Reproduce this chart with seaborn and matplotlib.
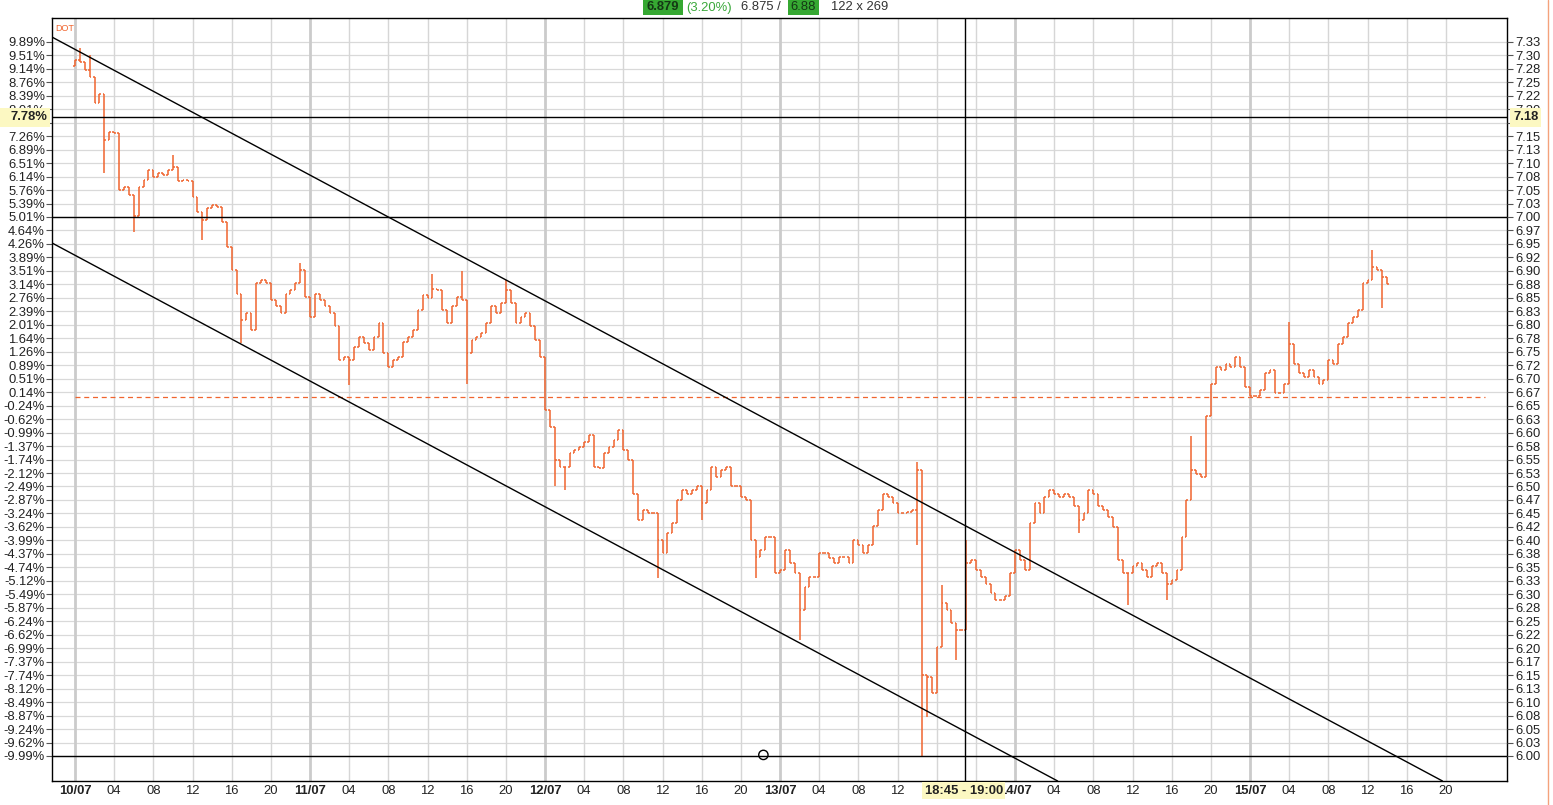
import matplotlib
matplotlib.use("Agg")
import matplotlib.pyplot as plt
from matplotlib.patches import Rectangle
import seaborn as sns
import numpy as np
import pandas as pd

# --- data: DOT 30-minute closes, starting 10/07 00:00 ---
first_open = 7.280
close = [
    7.291, 7.288, 7.273, 7.260, 7.211, 7.229, 7.143, 7.158, 7.155, 7.050,
    7.056, 7.041, 7.001, 7.056, 7.069, 7.087, 7.075, 7.081, 7.078, 7.087,
    7.093, 7.066, 7.069, 7.066, 7.038, 7.010, 6.994, 7.016, 7.022, 7.019,
    6.991, 6.945, 6.902, 6.858, 6.809, 6.821, 6.790, 6.877, 6.883, 6.877,
    6.846, 6.834, 6.821, 6.858, 6.865, 6.877, 6.902, 6.852, 6.815, 6.858,
    6.846, 6.834, 6.821, 6.797, 6.735, 6.741, 6.735, 6.759, 6.778, 6.766,
    6.753, 6.778, 6.803, 6.747, 6.722, 6.735, 6.741, 6.769, 6.778, 6.790,
    6.827, 6.855, 6.849, 6.867, 6.864, 6.827, 6.803, 6.834, 6.852, 6.846,
    6.747, 6.772, 6.778, 6.784, 6.803, 6.834, 6.821, 6.840, 6.864, 6.840,
    6.803, 6.815, 6.821, 6.797, 6.772, 6.741, 6.642, 6.611, 6.550, 6.537,
    6.537, 6.562, 6.568, 6.574, 6.583, 6.596, 6.537, 6.534, 6.562, 6.574,
    6.586, 6.605, 6.568, 6.550, 6.487, 6.438, 6.456, 6.450, 6.450, 6.401,
    6.376, 6.413, 6.432, 6.475, 6.494, 6.487, 6.494, 6.500, 6.469, 6.494,
    6.537, 6.518, 6.531, 6.537, 6.500, 6.500, 6.481, 6.475, 6.401, 6.370,
    6.382, 6.407, 6.407, 6.339, 6.345, 6.382, 6.358, 6.339, 6.271, 6.314,
    6.333, 6.333, 6.376, 6.376, 6.367, 6.358, 6.370, 6.370, 6.358, 6.401,
    6.392, 6.376, 6.392, 6.426, 6.456, 6.487, 6.481, 6.469, 6.450, 6.450,
    6.453, 6.456, 6.530, 6.150, 6.147, 6.116, 6.203, 6.283, 6.271, 6.246,
    6.234, 6.234, 6.358, 6.364, 6.345, 6.333, 6.320, 6.302, 6.289, 6.289,
    6.296, 6.339, 6.382, 6.364, 6.345, 6.432, 6.469, 6.450, 6.481, 6.494,
    6.487, 6.481, 6.487, 6.481, 6.463, 6.438, 6.450, 6.493, 6.487, 6.463,
    6.456, 6.444, 6.425, 6.364, 6.339, 6.339, 6.352, 6.358, 6.345, 6.333,
    6.352, 6.358, 6.339, 6.320, 6.327, 6.345, 6.407, 6.475, 6.530, 6.524,
    6.518, 6.630, 6.691, 6.722, 6.716, 6.728, 6.722, 6.741, 6.722, 6.685,
    6.667, 6.667, 6.679, 6.710, 6.716, 6.673, 6.673, 6.691, 6.765, 6.728,
    6.710, 6.704, 6.716, 6.704, 6.691, 6.697, 6.735, 6.728, 6.765, 6.778,
    6.803, 6.815, 6.827, 6.877, 6.883, 6.908, 6.902, 6.889, 6.875,
]
# wicks that reach beyond the open/close of their bar
extra_high = {1: 7.313, 3: 7.300, 20: 7.115, 46: 6.915, 73: 6.894, 79: 6.899,
              88: 6.883, 172: 6.546, 177: 6.317, 182: 6.401, 228: 6.593,
              248: 6.806, 265: 6.939}
extra_low = {6: 7.081, 12: 6.973, 26: 6.957, 34: 6.766, 56: 6.688, 80: 6.691,
             98: 6.500, 100: 6.493, 119: 6.330, 128: 6.438, 139: 6.330,
             148: 6.215, 172: 6.391, 173: 6.000, 174: 6.073, 180: 6.178,
             205: 6.413, 215: 6.280, 223: 6.289, 267: 6.831}

prev_close = 6.6657
right_labels = [
    "6.00", "6.03", "6.05", "6.08", "6.10", "6.13", "6.15", "6.17", "6.20", "6.22",
    "6.25", "6.28", "6.30", "6.33", "6.35", "6.38", "6.40", "6.42", "6.45", "6.47",
    "6.50", "6.53", "6.55", "6.58", "6.60", "6.63", "6.65", "6.67", "6.70", "6.72",
    "6.75", "6.78", "6.80", "6.83", "6.85", "6.88", "6.90", "6.92", "6.95", "6.97",
    "7.00", "7.03", "7.05", "7.08", "7.10", "7.13", "7.15", "7.17", "7.20", "7.22",
    "7.25", "7.28", "7.30", "7.33",
]
left_labels = [
    "-9.99%", "-9.62%", "-9.24%", "-8.87%", "-8.49%", "-8.12%", "-7.74%", "-7.37%",
    "-6.99%", "-6.62%", "-6.24%", "-5.87%", "-5.49%", "-5.12%", "-4.74%", "-4.37%",
    "-3.99%", "-3.62%", "-3.24%", "-2.87%", "-2.49%", "-2.12%", "-1.74%", "-1.37%",
    "-0.99%", "-0.62%", "-0.24%", "0.14%", "0.51%", "0.89%", "1.26%", "1.64%",
    "2.01%", "2.39%", "2.76%", "3.14%", "3.51%", "3.89%", "4.26%", "4.64%",
    "5.01%", "5.39%", "5.76%", "6.14%", "6.51%", "6.89%", "7.26%", "7.64%",
    "8.01%", "8.39%", "8.76%", "9.14%", "9.51%", "9.89%",
]
day_labels = ["10/07", "11/07", "12/07", "13/07", "14/07", "15/07"]
hour_labels = ["04", "08", "12", "16", "20"]

# cursor / drawing tools
cursor_hour = 90.94
cursor_price = 7.1855
cursor_pct = "7.78%"
cursor_px = "7.18"
cursor_span = "18:45 - 19:00"
key_levels = [7.00, 6.00]
channel_upper = (82.2, 6.512)
channel_lower = (82.2, 6.130)
channel_slope = -0.00972  # price per hour
circle_pt = (70.3, 6.002)

ORANGE = "#f0652f"
FS = 9.4

sns.set_style("white")
plt.rcParams["font.family"] = ["Liberation Sans", "DejaVu Sans"]

n = len(close)
df = pd.DataFrame({"t": np.arange(n) * 0.5, "close": close})
df["open"] = [first_open] + close[:-1]
df["high"] = df[["open", "close"]].max(axis=1)
df["low"] = df[["open", "close"]].min(axis=1)
for i, v in extra_high.items():
    df.loc[i, "high"] = max(df.loc[i, "high"], v)
for i, v in extra_low.items():
    df.loc[i, "low"] = min(df.loc[i, "low"], v)

W, H = 1553, 805
fig = plt.figure(figsize=(W / 100, H / 100), dpi=100)
ax = fig.add_axes([52 / W, 1 - 781 / H, (1507 - 52) / W, (781 - 18) / H])
ylo, yhi = 5.9536, 7.3692
xlo, xhi = -2.35, 146.24
ax.set_xlim(xlo, xhi)
ax.set_ylim(ylo, yhi)

# grid
price_ticks = 6.0 + 0.025 * np.arange(len(right_labels))
for p in price_ticks:
    ax.axhline(p, color="#d9d9d9", lw=0.9, zorder=0)
hour_ticks = np.arange(0, 141, 4)
for h in hour_ticks:
    if h % 24 == 0:
        ax.axvline(h, color="#cbcbcb", lw=2.0, zorder=0)
    else:
        ax.axvline(h, color="#d6d6d6", lw=1.0, zorder=0)

# previous close
ax.axhline(prev_close, xmin=(0 - xlo) / (xhi - xlo), xmax=0.985, color=ORANGE,
           lw=0.9, ls=(0, (4, 3)), zorder=1)

# OHLC bars
ax.vlines(df["t"], df["low"], df["high"], color=ORANGE, lw=1.1, zorder=3)
ax.hlines(df["open"], df["t"] - 0.18, df["t"], color=ORANGE, lw=1.1, zorder=3)
ax.hlines(df["close"], df["t"], df["t"] + 0.18, color=ORANGE, lw=1.1, zorder=3)

# drawing tools
for lv in key_levels:
    ax.axhline(lv, color="black", lw=1.0, zorder=4)
ax.axhline(cursor_price, color="black", lw=1.0, zorder=4)
ax.axvline(cursor_hour, color="black", lw=1.0, zorder=4)
ax.axline(channel_upper, slope=channel_slope, color="black", lw=1.0, zorder=4)
ax.axline(channel_lower, slope=channel_slope, color="black", lw=1.0, zorder=4)
sns.scatterplot(x=[circle_pt[0]], y=[circle_pt[1]], ax=ax, s=45, marker="o",
                facecolor="none", edgecolor="black", linewidth=1.0, zorder=5)

ax.text(0.002, 0.992, "DOT", transform=ax.transAxes, color=ORANGE, fontsize=6.5,
        ha="left", va="top")

# axes / ticks
for s in ax.spines.values():
    s.set_color("black")
    s.set_linewidth(1.0)
ax.set_yticks(price_ticks)
ax.set_yticklabels(left_labels)
ax.tick_params(axis="y", length=4, width=0.8, colors="#555555", labelcolor="#222222",
               labelsize=FS, pad=1)
ax2 = ax.twinx()
ax2.set_ylim(ylo, yhi)
ax2.set_yticks(price_ticks)
ax2.set_yticklabels(right_labels)
ax2.tick_params(axis="y", length=4, width=0.8, colors="#555555", labelcolor="#222222",
                labelsize=FS, pad=2)
for s in ax2.spines.values():
    s.set_visible(False)

xlabels = []
for h in hour_ticks:
    if h % 24 == 0:
        xlabels.append(day_labels[h // 24])
    else:
        xlabels.append(hour_labels[(h % 24) // 4 - 1])
ax.set_xticks(hour_ticks)
ax.set_xticklabels(xlabels)
ax.tick_params(axis="x", length=0, labelsize=FS, pad=3, labelcolor="#222222")
for lab in ax.get_xticklabels():
    if "/" in lab.get_text():
        lab.set_fontweight("bold")

# cursor highlight boxes
HL = "#fcf8c2"
def px_rect(x0, y0, x1, y1, color):
    fig.patches.append(Rectangle((x0 / W, 1 - y1 / H), (x1 - x0) / W, (y1 - y0) / H,
                                 transform=fig.transFigure, facecolor=color,
                                 edgecolor="none", zorder=10))

px_rect(0, 108, 50, 127, HL)
fig.text(47 / W, 1 - 117.5 / H, cursor_pct, ha="right", va="center", fontsize=FS,
         fontweight="bold", color="#222222", zorder=11)
px_rect(1510, 108, 1541, 127, HL)
fig.text(1513 / W, 1 - 117.5 / H, cursor_px, ha="left", va="center", fontsize=FS,
         fontweight="bold", color="#222222", zorder=11)
px_rect(922, 782, 1005, 799, HL)
fig.text(964 / W, 1 - 790.5 / H, cursor_span, ha="center", va="center", fontsize=FS,
         fontweight="bold", color="#222222", zorder=11)

# header quote
GREEN = "#36a832"
px_rect(643, 0, 683, 15, GREEN)
fig.text(663 / W, 1 - 7.5 / H, "6.879", ha="center", va="center", fontsize=FS,
         fontweight="bold", color="#143814", zorder=11)
fig.text(686 / W, 1 - 7.5 / H, "(3.20%)", ha="left", va="center", fontsize=FS,
         color="#3aa83a", zorder=11)
fig.text(741 / W, 1 - 7.5 / H, "6.875 /", ha="left", va="center", fontsize=FS,
         color="#333333", zorder=11)
px_rect(788, 0, 819, 15, GREEN)
fig.text(803.5 / W, 1 - 7.5 / H, "6.88", ha="center", va="center", fontsize=FS,
         color="#143814", zorder=11)
fig.text(831 / W, 1 - 7.5 / H, "122 x 269", ha="left", va="center", fontsize=FS,
         color="#333333", zorder=11)

# window border
fig.add_artist(plt.Line2D([1548 / W, 1548 / W], [0, 1], transform=fig.transFigure,
                          color="#f4a27c", lw=1.0))

fig.savefig("out.png", dpi=100)
